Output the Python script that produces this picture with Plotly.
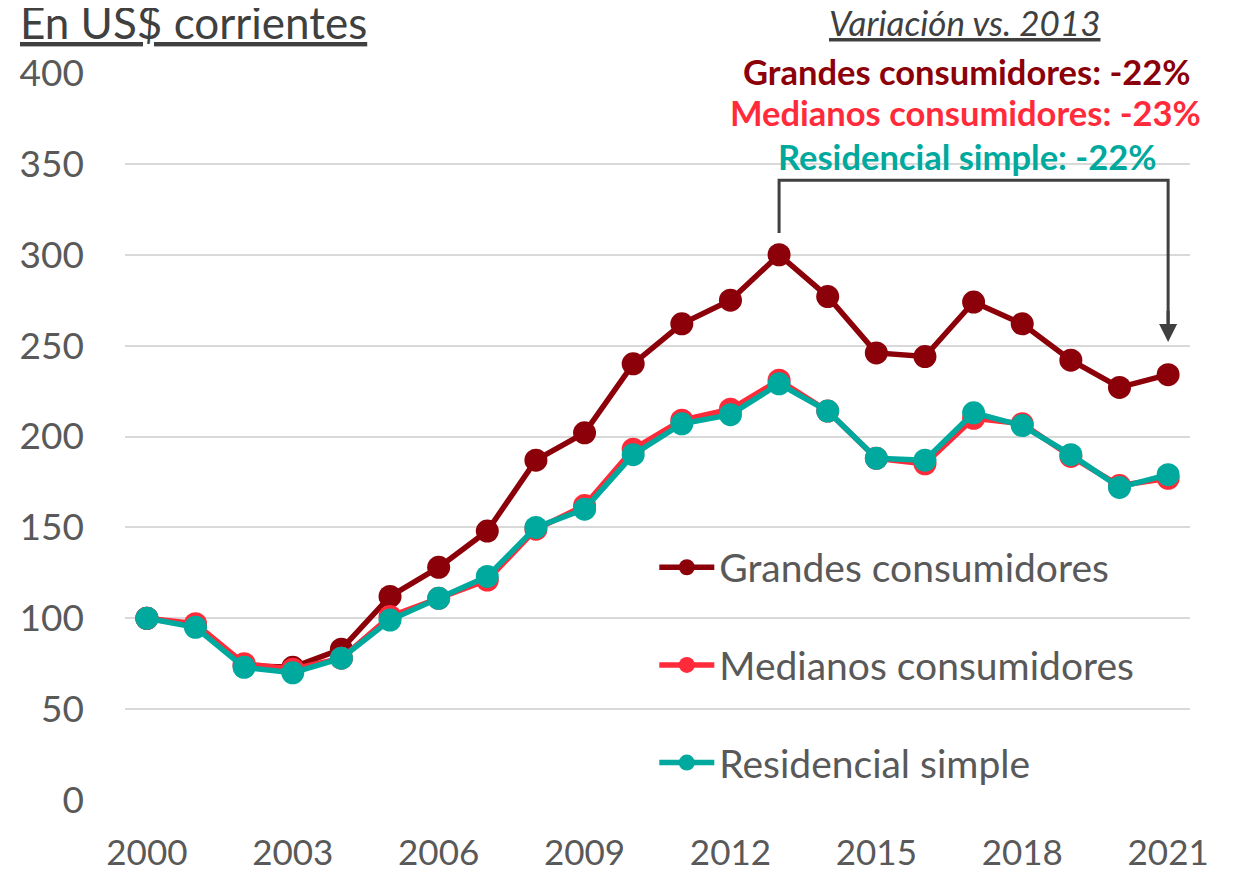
import plotly.graph_objects as go

years = list(range(2000, 2022))
grandes = [100, 96, 74, 73, 83, 112, 128, 148, 187, 202, 240, 262, 275, 300, 277, 246, 244, 274, 262, 242, 227, 234]
medianos = [100, 97, 75, 72, 78, 101, 111, 121, 149, 162, 193, 209, 215, 231, 214, 188, 185, 210, 207, 189, 173, 177]
residencial = [100, 95, 73, 70, 78, 99, 111, 123, 150, 160, 190, 207, 212, 229, 214, 188, 187, 213, 206, 190, 172, 179]
names = ["Grandes consumidores", "Medianos consumidores", "Residencial simple"]
colors = ["#8B0009", "#FF2B3A", "#00A99D"]
x_ticks = [2000, 2003, 2006, 2009, 2012, 2015, 2018, 2021]
y_ticks = [0, 50, 100, 150, 200, 250, 300, 350, 400]

FONT = "Lato"
fig = go.Figure()
for i, (name, vals, col) in enumerate(zip(names, [grandes, medianos, residencial], colors)):
    fig.add_trace(go.Scatter(
        x=years, y=vals, name=name, mode="lines+markers",
        line=dict(color=col, width=5.5),
        marker=dict(color=col, size=23),
        legendgroup=str(i),
    ))

# bracket 2013 -> 2021
fig.add_shape(type="path", path="M 2013,312 L 2013,341 L 2021,341 L 2021,262",
              line=dict(color="#404040", width=3), xref="x", yref="y")
fig.add_annotation(x=2021, y=252, ax=2021, ay=270, xref="x", yref="y", axref="x", ayref="y",
                   showarrow=True, arrowhead=2, arrowsize=1.2, arrowwidth=3, arrowcolor="#404040", text="")

# plot area on screen: x 125..1190, y 73..800
def xpaper(xpix):
    return (xpix - 125) / 1065

def ypaper(ypix):
    return 1 + (73 - ypix) / 727

fig.add_annotation(text="<u>En US$ corrientes</u>", xref="paper", yref="paper", x=xpaper(18),
                   y=ypaper(22), xanchor="left", yanchor="middle", showarrow=False,
                   font=dict(family=FONT, size=44, color="#404040"))

top_lines = [("<i><u>Variación vs. 2013</u></i>", "#404040", 35, 22, 964),
             ("<b>Grandes consumidores: -22%</b>", colors[0], 34.5, 71, 967),
             ("<b>Medianos consumidores: -23%</b>", colors[1], 34.5, 113, 965),
             ("<b>Residencial simple: -22%</b>", colors[2], 34.5, 157, 967)]
for txt, col, fs, ypix, xpix in top_lines:
    fig.add_annotation(text=txt, xref="paper", yref="paper", x=xpaper(xpix),
                       y=ypaper(ypix), xanchor="center", yanchor="middle", showarrow=False,
                       font=dict(family=FONT, size=fs, color=col))

fig.update_layout(
    width=1235, height=863,
    margin=dict(l=117, r=53, t=65, b=71),
    plot_bgcolor="white", paper_bgcolor="white",
    font=dict(family=FONT, size=36, color="#595959"),
    showlegend=True,
    legend=dict(x=0.497, y=0.364, xanchor="left", yanchor="top", bgcolor="rgba(0,0,0,0)",
                font=dict(family=FONT, size=39, color="#595959"), tracegroupgap=44,
                itemwidth=55),
    xaxis=dict(range=[1999.55, 2021.45], tickvals=x_ticks, showgrid=False, zeroline=False,
               showline=False, ticks="", ticklabelstandoff=29, automargin=False,
               tickfont=dict(family=FONT, size=35, color="#595959")),
    yaxis=dict(range=[0, 400], tickvals=y_ticks, showgrid=True, gridcolor="#D9D9D9", gridwidth=2,
               zeroline=False, showline=False, ticks="", ticklabelstandoff=40, automargin=False,
               tickfont=dict(family=FONT, size=37, color="#595959")),
)
fig.write_html("out.html")
